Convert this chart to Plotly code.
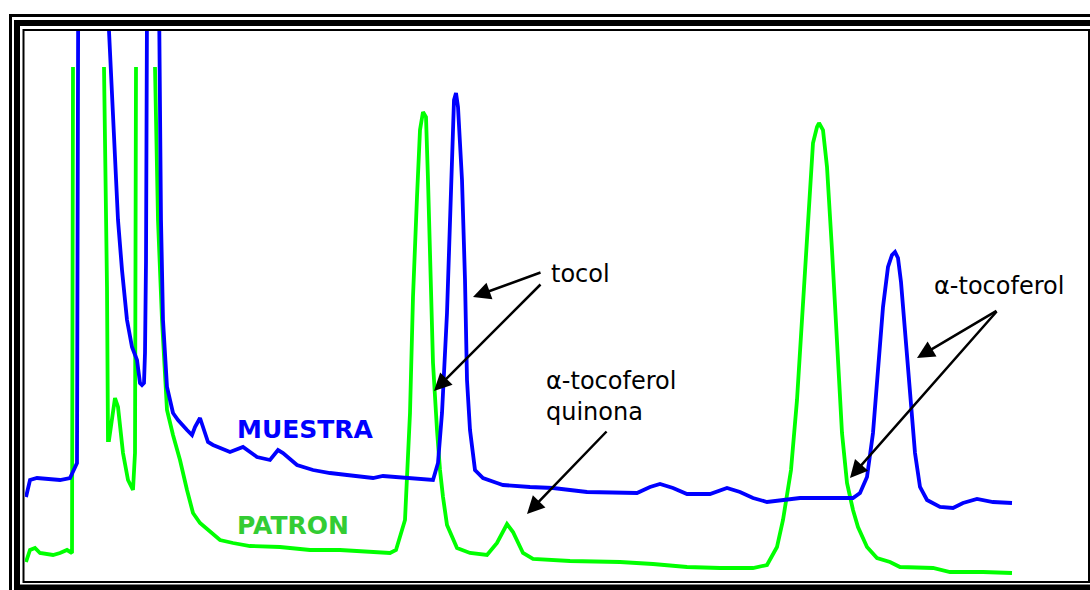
import plotly.graph_objects as go

# Chromatogram traces (time in arbitrary units, detector response in arbitrary units)
# None marks detector saturation (off-scale) for the standard trace
muestra_t = [1, 5, 12, 35, 45, 47, 52, 53.5, 82.5, 84, 88, 93, 97, 102, 107, 112, 115, 117, 119, 120, 121,
             122, 122.5, 133, 134, 136, 138, 142, 148, 153, 162, 167, 170, 175, 178, 183, 188, 195, 205,
             218, 232, 245, 253, 258, 272, 288, 305, 322, 338, 348, 358, 388, 408, 413, 417, 422, 425,
             427, 429, 431, 433, 437, 440, 442, 445, 450, 458, 472, 478, 505, 528, 562, 600, 612, 625,
             635, 648, 662, 685, 702, 715, 728, 742, 762, 775, 800, 828, 835, 842, 848, 853, 858, 863,
             867, 870, 873, 876, 880, 885, 890, 895, 902, 915, 928, 938, 952, 968, 987]
muestra_y = [85, 102, 104, 102, 104, 109, 119, 700, 700, 551, 462, 362, 312, 262, 235, 222, 199, 197, 199,
             229, 320, 551, 700, 700, 551, 362, 262, 195, 169, 162, 152, 147, 155, 164, 155, 140, 137, 134,
             130, 135, 125, 122, 132, 129, 117, 112, 109, 107, 105, 104, 106, 104, 102, 119, 169, 269, 369,
             435, 482, 489, 475, 402, 302, 202, 152, 112, 104, 99, 97, 95, 94, 90, 89, 89, 95, 98, 94, 88,
             88, 94, 90, 84, 80, 83, 84, 84, 84, 89, 105, 149, 215, 275, 315, 327, 330, 324, 300, 249, 182,
             129, 95, 82, 75, 74, 79, 83, 80, 79]

patron_t = [1, 5, 10, 15, 28, 35, 42, 47, 48, None, 79, 82, 83, 84, 90, 93, 98, 103, 108, 110, 111, None,
            130, 133, 137, 142, 148, 155, 162, 168, 175, 185, 195, 208, 225, 255, 285, 315, 345, 365, 371,
            375, 380, 385, 388, 392, 395, 398, 401, 403, 405, 408, 412, 415, 418, 422, 432, 445, 462, 472,
            482, 488, 498, 508, 545, 595, 628, 662, 695, 728, 742, 752, 758, 763, 766, 772, 778, 783, 788,
            792, 794, 798, 802, 807, 812, 817, 822, 828, 833, 842, 852, 865, 875, 892, 908, 925, 958, 987]
patron_y = [20, 32, 34, 29, 27, 29, 32, 29, 515, None, 515, 295, 142, 142, 184, 175, 129, 102, 92, 129, 515,
            None, 515, 362, 262, 172, 147, 122, 92, 69, 59, 50, 42, 39, 36, 35, 32, 32, 30, 29, 32, 44, 62,
            169, 285, 385, 452, 470, 465, 402, 319, 219, 152, 112, 85, 57, 34, 29, 27, 39, 58, 50, 29, 23,
            21, 20, 18, 15, 14, 14, 17, 35, 62, 92, 112, 182, 282, 365, 439, 455, 459, 452, 415, 332, 232,
            149, 99, 72, 55, 35, 24, 20, 15, 14, 14, 10, 10, 9]

series_names = ["MUESTRA", "PATRON"]

W, H = 1090, 590
X_RANGE = [0, 1064]
Y_RANGE = [0, 551]

def px(x):
    return x / W

def py(y):
    return 1 - y / H

fig = go.Figure()
fig.add_trace(go.Scatter(x=patron_t, y=patron_y, mode="lines", name=series_names[1],
                         line=dict(color="#00ff00", width=3.8), connectgaps=False))
fig.add_trace(go.Scatter(x=muestra_t, y=muestra_y, mode="lines", name=series_names[0],
                         line=dict(color="#0000ff", width=3.8)))

# double frame
shapes = [
    dict(type="rect", xref="paper", yref="paper", x0=px(10.5), y0=py(15.5), x1=px(1110), y1=py(610),
         line=dict(color="black", width=3)),
    dict(type="rect", xref="paper", yref="paper", x0=px(17), y0=py(23), x1=px(1100), y1=py(587.5),
         line=dict(color="black", width=6)),
    dict(type="rect", xref="paper", yref="paper", x0=px(23.5), y0=py(30), x1=px(1089), y1=py(582),
         line=dict(color="black", width=2)),
]

font = "DejaVu Sans, Arial, sans-serif"
annotations = []

def label(text, x, y, size=24, color="black", bold=False):
    if bold:
        text = "<b>" + text + "</b>"
    annotations.append(dict(text=text, xref="paper", yref="paper", x=px(x), y=py(y),
                            xanchor="left", yanchor="middle", align="left", showarrow=False,
                            font=dict(family=font, size=size, color=color)))

def arrow(x_head, y_head, x_tail, y_tail):
    annotations.append(dict(text="", x=x_head, y=y_head, ax=x_tail, ay=y_tail,
                            xref="x", yref="y", axref="x", ayref="y", showarrow=True,
                            arrowhead=2, arrowsize=1.4, arrowwidth=2.5, arrowcolor="black",
                            standoff=0, startstandoff=0))

label(series_names[0], 235, 430, size=25, color="#0000ff", bold=True)
label(series_names[1], 235, 525, size=25, color="#33cc33", bold=True)
label("tocol", 549, 274, size=24)
label("α-tocoferol<br>quinona", 544, 396, size=24)
label("α-tocoferol", 932, 286, size=24)

arrow(448, 285, 517, 310)
arrow(409, 191, 517, 299)
arrow(502, 68, 583, 152)
arrow(892, 224, 973, 272)
arrow(825, 104, 973, 272)

fig.update_layout(
    width=W, height=H,
    margin=dict(l=0, r=0, t=0, b=0),
    paper_bgcolor="white", plot_bgcolor="white",
    showlegend=False,
    xaxis=dict(domain=[25 / W, 1089 / W], range=X_RANGE, visible=False, fixedrange=True),
    yaxis=dict(domain=[1 - 582 / H, 1 - 31 / H], range=Y_RANGE, visible=False, fixedrange=True),
    shapes=shapes,
    annotations=annotations,
)

fig.write_html("out.html")
